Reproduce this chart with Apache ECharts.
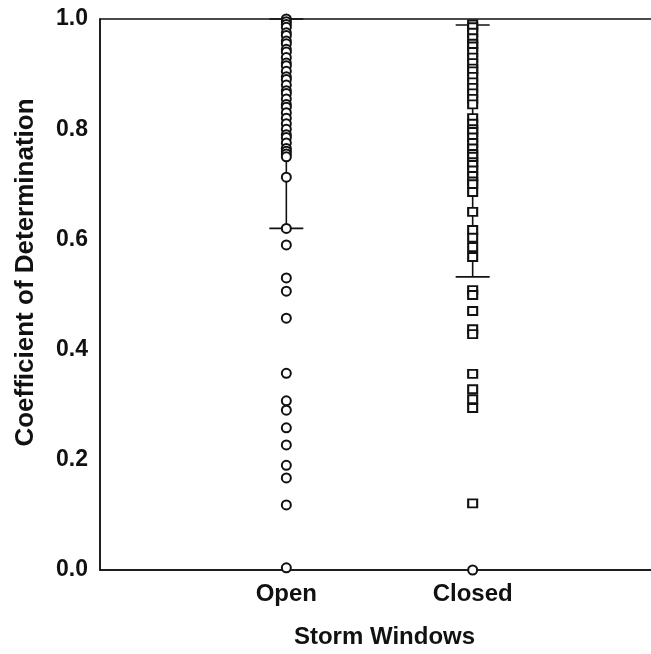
<!DOCTYPE html>
<html>
<head>
<meta charset="utf-8">
<script src="https://cdn.jsdelivr.net/npm/echarts@6/dist/echarts.min.js"></script>
<style>
html,body{margin:0;padding:0;background:#fff;}
#chart{width:651px;height:654px;}
</style>
</head>
<body>
<div id="chart"></div>
<script>
// ---- data ----
const categories = ['Open', 'Closed'];
const yTicks = [0.0, 0.2, 0.4, 0.6, 0.8, 1.0];

const openValues = [
  1.0, 0.995, 0.99, 0.985, 0.975, 0.97, 0.96, 0.955, 0.945, 0.94, 0.93, 0.92,
  0.915, 0.905, 0.895, 0.89, 0.88, 0.87, 0.865, 0.855, 0.845, 0.84, 0.83, 0.82,
  0.81, 0.80, 0.79, 0.785, 0.775, 0.765, 0.76, 0.755, 0.75, 0.713, 0.62,
  0.59, 0.53, 0.506, 0.457, 0.357, 0.307, 0.29, 0.258, 0.227, 0.19, 0.167,
  0.118, 0.004
];

const closedValues = [
  0.99, 0.985, 0.975, 0.965, 0.955, 0.95, 0.94, 0.93, 0.92, 0.91, 0.905,
  0.895, 0.885, 0.875, 0.865, 0.855, 0.845, 0.82, 0.81, 0.80, 0.795, 0.785,
  0.775, 0.765, 0.755, 0.75, 0.74, 0.735, 0.725, 0.715, 0.705, 0.70,
  0.686, 0.65, 0.617, 0.603, 0.586, 0.568,
  0.508, 0.499, 0.47, 0.437, 0.428, 0.356, 0.328, 0.31, 0.294, 0.121
];
const closedCircleValues = [0.0];

const errLow = [0.62, 0.532];
const errHigh = [1.0, 0.989];

// ---- chart ----
const axisCats = [''].concat(categories, ['']);
const chart = echarts.init(document.getElementById('chart'), null, {renderer: 'canvas'});
const FONT = 'Liberation Sans, Arial, sans-serif';
const markerStyle = {color: '#fff', borderColor: '#111', borderWidth: 2, opacity: 1};

const option = {
  backgroundColor: '#fff',
  animation: false,
  grid: {
    left: 100, top: 19, height: 551, width: 559,
    containLabel: false,
    outerBoundsMode: 'none',
    show: true, borderColor: '#111', borderWidth: 1.5, backgroundColor: 'transparent'
  },
  xAxis: {
    type: 'category',
    data: axisCats,
    boundaryGap: false,
    axisLine: {show: true, lineStyle: {color: '#111', width: 1.5}},
    axisTick: {show: false},
    splitLine: {show: false},
    axisLabel: {
      color: '#111', fontFamily: FONT, fontWeight: 'bold', fontSize: 24, margin: 12,
      interval: 0
    },
    name: 'Storm Windows',
    nameLocation: 'middle',
    nameGap: 55,
    nameTextStyle: {
      color: '#111', fontFamily: FONT, fontWeight: 'bold', fontSize: 24,
      padding: [0, 0, 0, 10]
    }
  },
  yAxis: {
    type: 'value',
    min: 0, max: 1, interval: 0.2,
    axisLine: {show: true, lineStyle: {color: '#111', width: 1.5}},
    axisTick: {show: false},
    splitLine: {show: false},
    axisLabel: {
      color: '#111', fontFamily: FONT, fontWeight: 'bold', fontSize: 23, margin: 12,
      formatter: v => {
        const t = yTicks.find(x => Math.abs(x - v) < 1e-9);
        return t === undefined ? '' : t.toFixed(1);
      }
    },
    name: 'Coefficient of Determination',
    nameLocation: 'middle',
    nameGap: 61,
    nameTextStyle: {
      color: '#111', fontFamily: FONT, fontWeight: 'bold', fontSize: 26,
      padding: [0, 0, 0, 44]
    }
  },
  series: [
    {
      type: 'custom',
      z: 1,
      silent: true,
      clip: false,
      data: categories.map((c, i) => [c, errLow[i], errHigh[i]]),
      renderItem: function (params, api) {
        const lo = api.coord([api.value(0), api.value(1)]);
        const hi = api.coord([api.value(0), api.value(2)]);
        const hw = 17;
        const st = {stroke: '#111', lineWidth: 1.6};
        return {
          type: 'group',
          children: [
            {type: 'line', shape: {x1: lo[0], y1: lo[1], x2: hi[0], y2: hi[1]}, style: st},
            {type: 'line', shape: {x1: lo[0] - hw, y1: lo[1], x2: lo[0] + hw, y2: lo[1]}, style: st},
            {type: 'line', shape: {x1: hi[0] - hw, y1: hi[1], x2: hi[0] + hw, y2: hi[1]}, style: st}
          ]
        };
      }
    },
    {
      type: 'scatter',
      z: 3,
      clip: false,
      symbol: 'circle',
      symbolSize: 9,
      itemStyle: markerStyle,
      data: openValues.map(v => [categories[0], v])
    },
    {
      type: 'scatter',
      z: 3,
      clip: false,
      symbol: 'rect',
      symbolSize: [9, 8],
      itemStyle: markerStyle,
      data: closedValues.map(v => [categories[1], v])
    },
    {
      type: 'scatter',
      z: 3,
      clip: false,
      symbol: 'circle',
      symbolSize: 9,
      itemStyle: markerStyle,
      data: closedCircleValues.map(v => [categories[1], v])
    }
  ]
};
chart.setOption(option);
</script>
</body>
</html>
